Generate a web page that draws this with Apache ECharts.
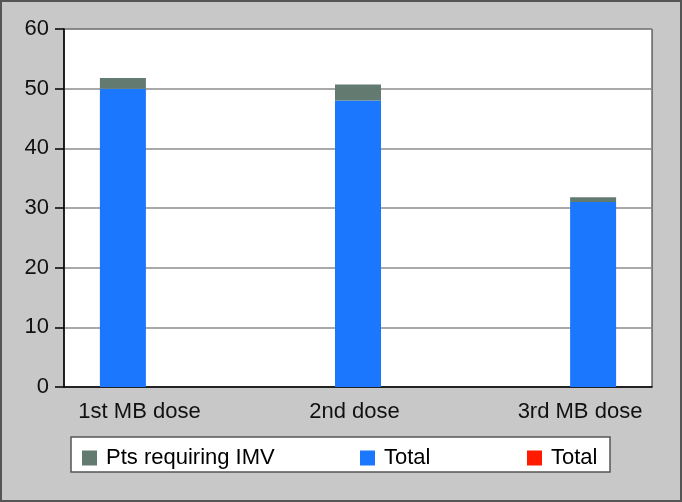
<!DOCTYPE html>
<html>
<head>
<meta charset="utf-8">
<script src="https://cdn.jsdelivr.net/npm/echarts@6/dist/echarts.min.js"></script>
<style>
html,body{margin:0;padding:0;background:#c8c8c8;}
#chart{width:682px;height:502px;}
</style>
</head>
<body>
<div id="chart"></div>
<script>
// ---- data ----
var categories = ['1st MB dose', '2nd dose', '3rd MB dose'];
var totalValues = [50, 48, 31];
var imvValues = [1.8, 2.7, 0.8];
var redValues = [0, 0, 0];
var yTicks = [0, 10, 20, 30, 40, 50, 60];

// ---- styles ----
var FONT = 'Liberation Sans, Arial, sans-serif';
var labelPad = [[0, 45, 0, 0], [0, 7, 0, 0], [0, 0, 0, 52]];
var gray = '#627a70', blue = '#1c77ff', red = '#ff1a00';

var chart = echarts.init(document.getElementById('chart'));

var series = [];
categories.forEach(function (c, i) {
  var tot = categories.map(function (_, j) { return j === i ? totalValues[j] : '-'; });
  var imv = categories.map(function (_, j) { return j === i ? imvValues[j] : '-'; });
  series.push({
    name: 'Total', type: 'bar', stack: 's' + i, data: tot,
    barWidth: 46, barGap: '-15%', itemStyle: { color: blue }, silent: true
  });
  series.push({
    name: 'Pts requiring IMV', type: 'bar', stack: 's' + i, data: imv,
    barWidth: 46, barGap: '-15%', itemStyle: { color: gray }, silent: true
  });
});
series.push({
  name: 'Total ', type: 'bar', stack: 's0', data: redValues,
  barWidth: 46, barGap: '-15%', itemStyle: { color: red }, silent: true
});

var legendBase = {
  orient: 'horizontal', top: 447, padding: 0,
  itemWidth: 15, itemHeight: 15, icon: 'rect', selectedMode: false,
  textStyle: { fontFamily: FONT, fontSize: 22, color: '#000', padding: [0, 0, 0, 4] }
};

var option = {
  backgroundColor: '#c8c8c8',
  animation: false,
  textStyle: { fontFamily: FONT },
  graphic: [
    { type: 'rect', z: 100, silent: true,
      shape: { x: 1, y: 1, width: 680, height: 500 },
      style: { fill: 'none', stroke: '#555', lineWidth: 2 } },
    { type: 'rect', z: -1, silent: true,
      shape: { x: 71, y: 437, width: 539, height: 35 },
      style: { fill: '#fff', stroke: '#555', lineWidth: 1.5 } }
  ],
  legend: [
    Object.assign({}, legendBase, { left: 82, data: ['Pts requiring IMV'] }),
    Object.assign({}, legendBase, { left: 360, data: ['Total'] }),
    Object.assign({}, legendBase, { left: 527, data: ['Total '] })
  ],
  grid: {
    left: 64, right: 30, top: 29, bottom: 115,
    show: true, backgroundColor: '#fff', borderColor: '#222', borderWidth: 1
  },
  xAxis: {
    type: 'category',
    data: categories.map(function (c, i) { return { value: c, textStyle: { padding: labelPad[i] } }; }),
    axisLine: { lineStyle: { color: '#000', width: 1.5 } },
    axisTick: { show: false },
    axisLabel: { fontSize: 22, color: '#111', margin: 14, fontFamily: FONT, interval: 0 }
  },
  yAxis: {
    type: 'value', min: yTicks[0], max: yTicks[yTicks.length - 1], interval: 10,
    axisLine: { show: true, lineStyle: { color: '#000', width: 1.5 } },
    axisTick: { show: true, length: 9, lineStyle: { color: '#000', width: 1.5 } },
    axisLabel: { fontSize: 22, color: '#111', margin: 15, fontFamily: FONT },
    splitLine: { lineStyle: { color: '#8c8c8c', width: 1.5 } }
  },
  series: series
};
chart.setOption(option);
</script>
</body>
</html>
